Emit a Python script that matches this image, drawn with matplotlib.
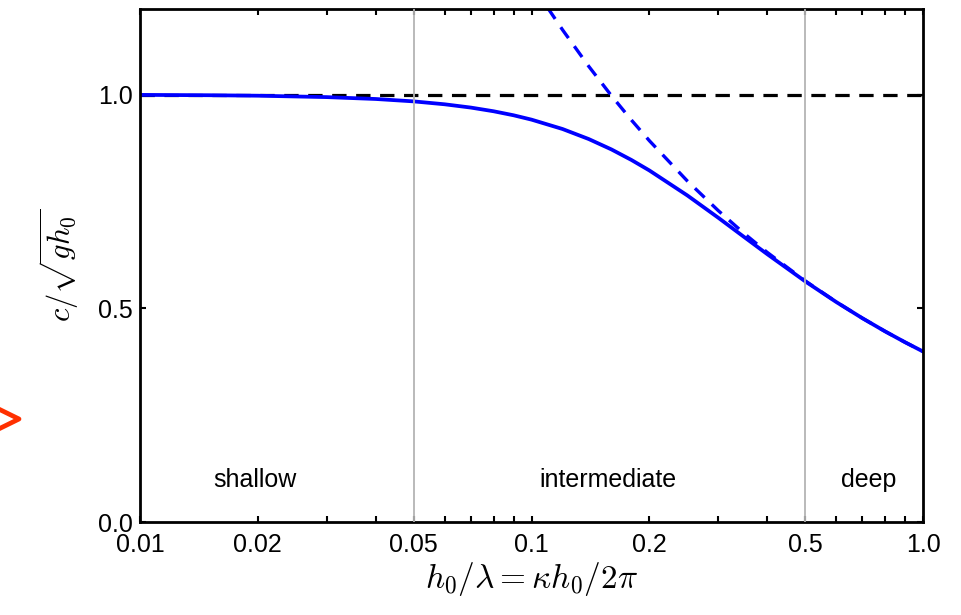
## phase speed of surface waves vs relative depth (shallow / intermediate / deep)
import matplotlib
matplotlib.use("Agg")
import matplotlib.pyplot as plt
from matplotlib.lines import Line2D
from matplotlib.ticker import FixedLocator, FixedFormatter, NullFormatter

plt.rcParams['font.family'] = ['Liberation Sans', 'DejaVu Sans']
plt.rcParams['mathtext.fontset'] = 'cm'

##values
h_lam = [0.01, 0.015, 0.02, 0.03, 0.04, 0.05, 0.06, 0.07, 0.08, 0.09, 0.1,
         0.12, 0.14, 0.16, 0.18, 0.2, 0.25, 0.3, 0.35, 0.4, 0.5, 0.6, 0.7,
         0.8, 0.9, 1.0]
c_full = [0.9993, 0.9985, 0.9974, 0.9941, 0.9897, 0.9841, 0.9773, 0.9696,
          0.9610, 0.9516, 0.9414, 0.9195, 0.8960, 0.8717, 0.8470, 0.8225,
          0.7641, 0.7118, 0.6661, 0.6267, 0.5631, 0.5148, 0.4768, 0.4460,
          0.4205, 0.3989]
h_deep = [0.11, 0.12, 0.14, 0.16, 0.18, 0.2, 0.25, 0.3, 0.35, 0.4, 0.5,
          0.6, 0.7, 0.8, 0.9, 1.0]
c_deep = [1.2029, 1.1516, 1.0662, 0.9974, 0.9403, 0.8921, 0.7979, 0.7284,
          0.6743, 0.6308, 0.5642, 0.5150, 0.4768, 0.4460, 0.4205, 0.3989]
shallow_lim = 0.05
deep_lim = 0.5
regions = ["shallow", "intermediate", "deep"]
region_x = [0.0197, 0.157, 0.728]
xtick_vals = [0.01, 0.02, 0.05, 0.1, 0.2, 0.5, 1.0]
xtick_labels = ["0.01", "0.02", "0.05", "0.1", "0.2", "0.5", "1.0"]
xminor_vals = [0.03, 0.04, 0.06, 0.07, 0.08, 0.09, 0.3, 0.4, 0.6, 0.7, 0.8, 0.9]
ytick_vals = [0.0, 0.5, 1.0]
ytick_labels = ["0.0", "0.5", "1.0"]

fig = plt.figure(figsize=(9.62, 6.15), dpi=100)
ax = fig.add_axes([0.1455, 0.1512, 0.814, 0.834])

ax.axvline(shallow_lim, color='#b4b4b4', lw=1.3, zorder=3)
ax.axvline(deep_lim, color='#b4b4b4', lw=1.3, zorder=3)
ax.axhline(1.0, color='k', lw=2.3, ls=(0, (4.5, 3.0)), zorder=2)
ax.plot(h_deep, c_deep, color='#0000ff', lw=2.4, ls=(0, (4.0, 3.0)), zorder=2)
ax.plot(h_lam, c_full, color='#0000ff', lw=2.7, zorder=2.5)

for name, xr in zip(regions, region_x):
    ax.text(xr, 0.098, name, ha='center', va='center', fontsize=18)

ax.set_xscale('log')
ax.set_xlim(0.01, 1.0)
ax.set_ylim(0.0, 1.2)
ax.xaxis.set_major_locator(FixedLocator(xtick_vals))
ax.xaxis.set_major_formatter(FixedFormatter(xtick_labels))
ax.xaxis.set_minor_locator(FixedLocator(xminor_vals))
ax.xaxis.set_minor_formatter(NullFormatter())
ax.set_yticks(ytick_vals)
ax.set_yticklabels(ytick_labels)
ax.tick_params(which='both', direction='in', top=True, right=True,
               length=4.5, width=1.5, labelsize=18)
ax.tick_params(axis='x', pad=8)
ax.tick_params(axis='y', pad=5)

for s in ax.spines.values():
    s.set_linewidth(2.0)

ax.set_xlabel(r'$h_0/\lambda = \kappa h_0/2\pi$', fontsize=24, labelpad=2)
ax.set_ylabel(r'$c/\sqrt{gh_0}$', fontsize=22, labelpad=12)

##red chevron cut off at the left edge
fig.add_artist(Line2D([-0.012, 19/962, -0.012],
                      [(615-404)/615, (615-419)/615, (615-434)/615],
                      color='#ff3000', lw=3.4, transform=fig.transFigure))

fig.savefig("out.png", dpi=100)
